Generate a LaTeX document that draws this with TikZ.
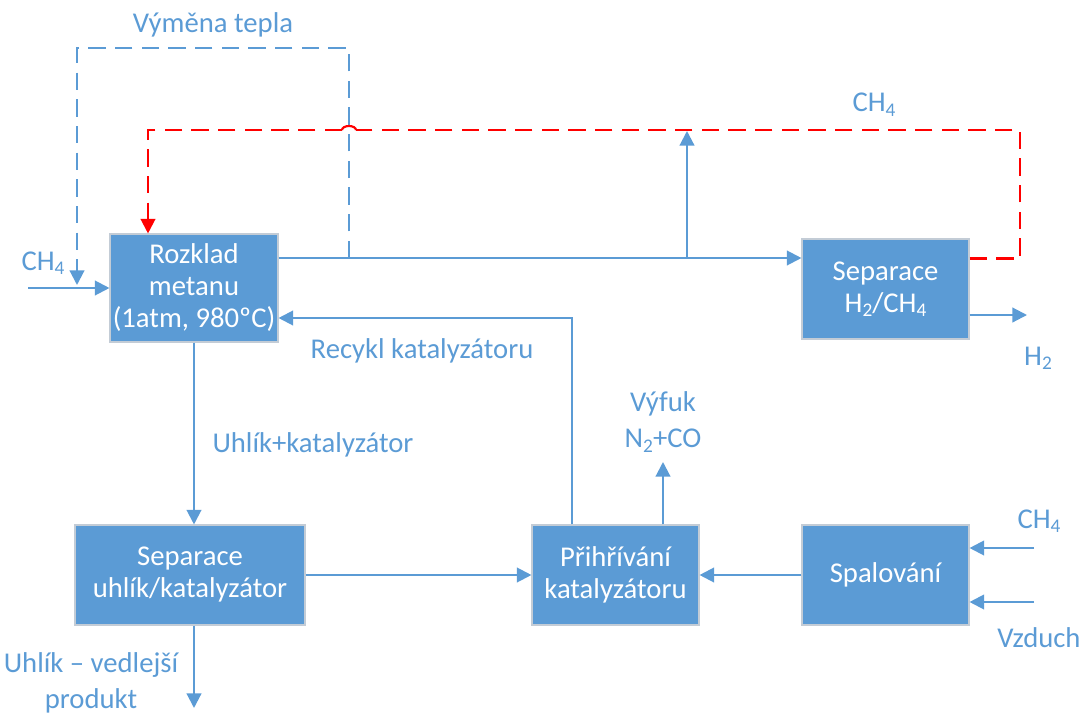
\documentclass[tikz,border=0pt]{standalone}
\usepackage{fontspec}
\setmainfont{Carlito}
\usetikzlibrary{arrows.meta,calc}
\definecolor{flowblue}{HTML}{5B9BD5}
\definecolor{boxedge}{HTML}{C3CCD6}
\definecolor{recred}{HTML}{FF0000}
% lowered, smaller digit for chemical formulas
\newcommand\subs[1]{\raisebox{-0.3ex}{\fontsize{14.5}{14.5}\selectfont #1}}

\begin{document}
\begin{tikzpicture}[x=0.75pt,y=-0.75pt,
  unit/.style={draw=boxedge, line width=0.8pt, fill=flowblue, text=white,
    align=center, inner sep=0pt, font=\fontsize{21.5}{24}\selectfont},
  lbl/.style={text=flowblue, inner sep=0pt, font=\fontsize{21.5}{25}\selectfont},
  flow/.style={draw=flowblue, line width=1.6pt,
    -{Triangle[length=11pt,width=11pt]}},
  heat/.style={draw=flowblue, line width=1.6pt, dash pattern=on 13pt off 7pt},
  rec/.style={draw=recred, line width=1.6pt, dash pattern=on 13pt off 7pt}]

\useasboundingbox (0,0) rectangle (1085,717);

% process units
\node[unit, minimum width=126pt, minimum height=81pt] (rozklad) at (194,288)
  {Rozklad\\metanu\\(1atm, 980ºC)};
\node[unit, minimum width=125.25pt, minimum height=75pt] (sepH) at (885.5,289)
  {Separace\\H\subs{2}/CH\subs{4}};
\node[unit, minimum width=172.5pt, minimum height=75pt] (sepC) at (190,575)
  {Separace\\uhlík/katalyzátor};
\node[unit, minimum width=125.25pt, minimum height=75pt] (preh) at (615.5,575)
  {Přihřívání\\katalyzátoru};
\node[unit, minimum width=125.25pt, minimum height=75pt] (spal) at (885.5,575)
  {Spalování};

% stream labels
\node[lbl, anchor=base] (tCHin) at (43,270) {CH\subs{4}};
\node[lbl, anchor=base] (tVym) at (213,33) {Výměna tepla};
\node[lbl, anchor=base] (tCHtop) at (874,112) {CH\subs{4}};
\node[lbl, anchor=base] (tH2) at (1038,365) {H\subs{2}};
\node[lbl, anchor=base] (tRec) at (422,358) {Recykl katalyzátoru};
\node[lbl, anchor=base] (tUK) at (313,452) {Uhlík+katalyzátor};
\node[lbl, align=center, font=\fontsize{21.5}{27}\selectfont] (tVyf) at (663,422)
  {Výfuk\\N\subs{2}+CO};
\node[lbl, anchor=base] (tCHsp) at (1039,528) {CH\subs{4}};
\node[lbl, anchor=base] (tVz) at (1039,647) {Vzduch};
\node[lbl, align=center, font=\fontsize{21.5}{27}\selectfont] (tUV) at (91,683)
  {Uhlík – vedlejší\\produkt};

% helper points for free ends and bends
\coordinate (feed) at (28,288);
\coordinate (outY) at (0,258);
\coordinate (hx) at (349,258);
\coordinate (hxTop) at (349,48);
\coordinate (hxEnd) at (77,285);
\coordinate (branch) at (687,258);
\coordinate (branchEnd) at (687,131);
\coordinate (redTop) at (1020,130);
\coordinate (hopR) at (356,130);
\coordinate (hopL) at (342,130);
\coordinate (redX) at (148,130);
\coordinate (recX) at (572,318);
\coordinate (exh) at (663,462);
\coordinate (fuel) at (1034,548);
\coordinate (air) at (1034,602);
\coordinate (h2end) at (1027,315);
\coordinate (cend) at (194,708);

% methane feed and reactor outlet
\draw[flow] (feed) -- (feed -| rozklad.west);
\draw[flow] (rozklad.east |- outY) -- (sepH.west |- outY);
\draw[flow] (branch) -- (branchEnd);

% heat exchange loop
\draw[heat, -{Triangle[length=11pt,width=11pt]}] (hx) -- (hxTop) -| (hxEnd);

% methane recycle from the separator, hopping over the heat loop
\draw[rec] ([yshift=-15pt]sepH.north east) -| (redTop) -- (hopR);
\draw[recred, line width=1.6pt] (hopR) arc[start angle=0, end angle=-180, x radius=7, y radius=4];
\draw[rec, -{Triangle[length=11pt,width=11pt]}] (hopL) -| (redX |- rozklad.north);

% hydrogen product
\draw[flow] (h2end -| sepH.east) -- (h2end);

% catalyst loop
\draw[flow] (rozklad.south) -- (rozklad.south |- sepC.north);
\draw[flow] (sepC.east) -- (preh.west);
\draw[flow] (recX |- preh.north) |- (rozklad.east |- recX);
\draw[flow] (exh |- preh.north) -- (exh);
\draw[flow] (spal.west) -- (preh.east);
\draw[flow] (fuel) -- (fuel -| spal.east);
\draw[flow] (air) -- (air -| spal.east);
\draw[flow] (cend |- sepC.south) -- (cend);
\end{tikzpicture}
\end{document}
